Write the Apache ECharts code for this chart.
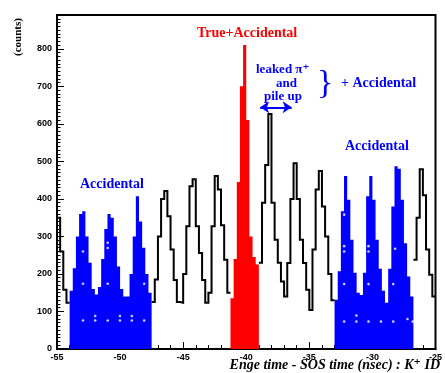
<!DOCTYPE html>
<html><head><meta charset="utf-8">
<script src="https://cdn.jsdelivr.net/npm/echarts@6/dist/echarts.min.js"></script>
<style>html,body{margin:0;padding:0;background:#fff}#c{width:445px;height:373px}</style>
</head><body><div id="c"></div>
<script>
// histogram binning (ns)
const tMin = -55;
const binWidth = 0.25;
// counts per bin
const counts = [
 350,260,158,123,155,215,300,360,367,300,
 230,160,145,165,240,320,360,350,300,220,
 160,140,140,200,300,407,340,270,200,150,
 125,185,300,400,421,354,265,184,125,123,
 200,327,434,452,327,256,184,123,150,327,
 461,425,330,238,150,135,240,445,700,810,
 610,300,245,225,230,390,490,626,390,291,
 230,180,140,229,400,495,400,291,229,158,
 104,265,425,474,380,300,200,130,131,207,
 367,461,398,291,203,150,144,203,407,461,
 398,291,214,155,123,214,380,487,480,398,
 282,193,140,238,350,479,410,265,198,140
];
// bin index ranges of the coloured regions
const accidentalRanges = [[4,29],[88,112]];
const trueRange = [55,63];
const blackRanges = [[0,3],[30,54],[64,87],[113,119]];
// white dots inside the accidental regions
const dotT = [-52.94,-52.94,-52.94,-51.97,-51.97,-50.98,-50.98,-50.98,-50.98,-50.01,-50.01,-49.07,-49.07,-48.09,-48.09,
              -32.24,-32.24,-32.24,-32.24,-32.24,-31.27,-31.27,-30.31,-30.31,-30.31,-30.31,-29.32,-28.35,-28.35,-28.2,-27.22,-26.8];
const dotV = [260,174,76,88,76,283,269,174,76,88,76,88,76,174,76,
              358,274,260,173,73,89,73,274,260,173,73,73,173,73,267,80,73];
// arrow marking the leaked pi+ / pile-up peak
const arrowT = [-38.9,-36.4];
const arrowV = 644;

function stepPoints(i0, i1) {
  const pts = [];
  for (let i = i0; i <= i1; i++) {
    const l = tMin + i * binWidth;
    pts.push([l, counts[i]]);
    pts.push([l + binWidth, counts[i]]);
  }
  return pts;
}

const series = [];
accidentalRanges.forEach(r => series.push({
  type: 'line', data: stepPoints(r[0], r[1]), symbol: 'none', silent: true,
  lineStyle: {width: 0}, areaStyle: {color: '#0000ff', opacity: 1}, z: 2
}));
series.push({
  type: 'line', data: stepPoints(trueRange[0], trueRange[1]), symbol: 'none', silent: true,
  lineStyle: {width: 0}, areaStyle: {color: '#ff0000', opacity: 1}, z: 2
});
blackRanges.forEach(r => series.push({
  type: 'line', data: stepPoints(r[0], r[1]), symbol: 'none', silent: true,
  lineStyle: {width: 2, color: '#000', join: 'miter', cap: 'butt'}, z: 3
}));
series.push({
  type: 'scatter', data: dotT.map((t, i) => [t, dotV[i]]), symbol: 'circle', symbolSize: 2.6,
  itemStyle: {color: '#ffffff'}, silent: true, z: 4,
  markLine: {
    silent: true, symbol: ['arrow', 'arrow'], symbolSize: [9, 9],
    lineStyle: {color: '#0000ff', width: 2, type: 'solid'},
    label: {show: false},
    data: [[{coord: [arrowT[0], arrowV]}, {coord: [arrowT[1], arrowV]}]]
  }
});

const chart = echarts.init(document.getElementById('c'), null, {renderer: 'canvas'});
const serif = '"Liberation Serif", "DejaVu Serif", serif';
function label(txt, x, y, color, size, extra) {
  return {type: 'text', x: x, y: y, z: 10,
    style: Object.assign({text: txt, fill: color, font: 'bold ' + size + 'px ' + serif, align: 'left', verticalAlign: 'middle'}, extra || {})};
}
chart.setOption({
  animation: false,
  backgroundColor: '#fff',
  grid: {left: 57, right: 5, top: 15, bottom: 24, show: true, borderColor: '#000', borderWidth: 2, backgroundColor: 'transparent'},
  xAxis: {
    type: 'value', min: -55, max: -25, interval: 5,
    axisLine: {lineStyle: {color: '#000', width: 2}},
    axisTick: {inside: true, length: 7, lineStyle: {color: '#000', width: 1}},
    minorTick: {show: true, splitNumber: 5, length: 4, lineStyle: {color: '#000', width: 1}},
    splitLine: {show: false},
    axisLabel: {color: '#000', fontSize: 9, fontWeight: 'bold', fontFamily: 'Liberation Sans, Arial, sans-serif', margin: 4}
  },
  yAxis: {
    type: 'value', min: 0, max: 890, interval: 100,
    axisLine: {lineStyle: {color: '#000', width: 2}},
    axisTick: {inside: true, length: 7, lineStyle: {color: '#000', width: 1}},
    minorTick: {show: true, splitNumber: 10, length: 3.5, lineStyle: {color: '#000', width: 1}},
    splitLine: {show: false},
    axisLabel: {color: '#000', fontSize: 9, fontWeight: 'bold', fontFamily: 'Liberation Sans, Arial, sans-serif', margin: 5,
      formatter: v => (v % 100 === 0 ? String(v) : '')}
  },
  series: series,
  graphic: [
    label('True+Accidental', 197, 33, '#ff0000', 14),
    label('Accidental', 80, 184, '#0000ff', 14),
    label('Accidental', 345, 146, '#0000ff', 14),
    label('leaked \u03c0\u207a', 256, 70, '#0000ff', 13),
    label('and', 276, 84, '#0000ff', 13),
    label('pile up', 264, 97, '#0000ff', 13),
    label('}', 317, 84, '#0000ff', 34, {font: '34px ' + serif}),
    label('+ Accidental', 341, 83, '#0000ff', 14),
    {type: 'text', x: 440, y: 365, z: 10, style: {text: 'Enge time - SOS time (nsec) : K\u207a ID', fill: '#000',
      font: 'italic bold 14px ' + serif, align: 'right', verticalAlign: 'middle'}},
    {type: 'text', x: 18, y: 37, rotation: Math.PI / 2, z: 10, style: {text: '(counts)', fill: '#000', font: 'bold 11px ' + serif, align: 'center', verticalAlign: 'middle'}}
  ]
});
</script>
</body></html>
